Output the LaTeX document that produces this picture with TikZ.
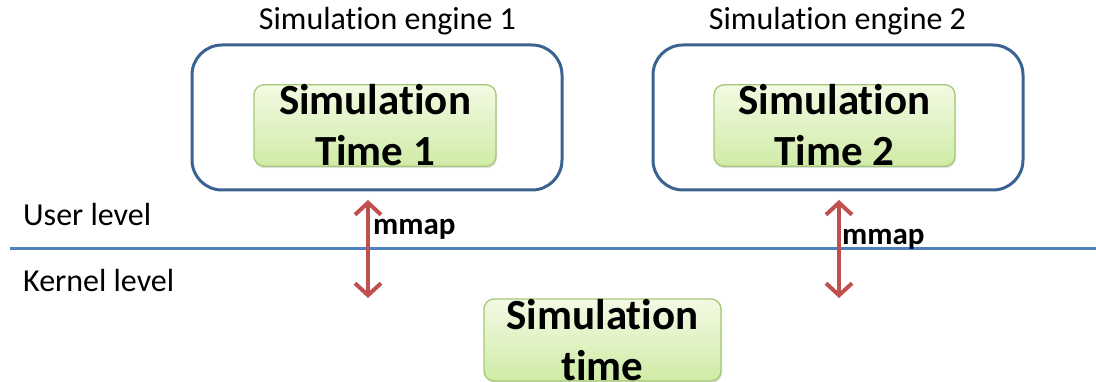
\documentclass[tikz,border=0pt]{standalone}
\usepackage{fontspec}
\setmainfont[Ligatures=NoCommon, RawFeature={-liga;-clig;-dlig;-calt}]{Carlito}
\usetikzlibrary{arrows.meta,shadows}
\definecolor{boxblue}{HTML}{3B6391}
\definecolor{lineblue}{HTML}{4F81BD}
\definecolor{arrred}{HTML}{C0504D}
\definecolor{gtop}{HTML}{F3FAE3}
\definecolor{gbot}{HTML}{CFEBA6}
\definecolor{gedge}{HTML}{A6C878}
\tikzset{
  engine/.style={draw=boxblue, line width=3pt, rounded corners=30pt},
  timebox/.style={draw=gedge, line width=1.3pt, rounded corners=10pt,
    top color=gtop, bottom color=gbot, inner sep=0pt, align=center,
    font=\fontsize{43}{51}\selectfont\bfseries,
    drop shadow={shadow xshift=1pt, shadow yshift=-2pt, opacity=0.25}},
  plain/.style={font=\fontsize{32}{36}\selectfont, inner sep=0pt},
  mmaplab/.style={font=\fontsize{31}{36}\selectfont\bfseries, inner sep=0pt},
  maparrow/.style={draw=arrred, line width=4pt,
    {Straight Barb[length=12pt,width=26pt,line width=4pt]}-{Straight Barb[length=12pt,width=26pt,line width=4pt]}},
  levelline/.style={draw=lineblue, line width=3pt}
}
\begin{document}
\begin{tikzpicture}[x=1pt,y=-1pt]
\useasboundingbox (0,0) rectangle (1096,382);
% outer engine boxes
\draw[engine] (192,45) rectangle (562,190);
\draw[engine] (653,45) rectangle (1023,190);
\node[plain, anchor=base] (e1lab) at (387.5,30) {Simulation engine 1};
\node[plain, anchor=base] (e2lab) at (837.5,30) {Simulation engine 2};
% inner time boxes
\node[timebox, minimum width=242pt, minimum height=81pt] (t1) at (375,125.5) {Simulation\\Time 1};
\node[timebox, minimum width=241pt, minimum height=81pt] (t2) at (834.5,125.5) {Simulation\\Time 2};
\node[timebox, minimum width=237pt, minimum height=82pt] (tk) at (602.5,340) {Simulation\\time};
% level line
\coordinate (ll) at (10,249);
\coordinate (lr) at (1096,249);
\draw[levelline] (ll) -- (lr);
\node[plain, anchor=base west] (ul) at (23,226) {User level};
\node[plain, anchor=base west] (kl) at (23,292) {Kernel level};
% mmap arrows
\coordinate (a1t) at (368,200);
\coordinate (a1b) at (368,298);
\coordinate (a2t) at (839,200);
\coordinate (a2b) at (839,298);
\draw[maparrow] (a1t) -- (a1b);
\draw[maparrow] (a2t) -- (a2b);
\node[mmaplab, anchor=base west] (m1) at (373,235) {mmap};
\node[mmaplab, anchor=base west] (m2) at (842,245) {mmap};
\end{tikzpicture}
\end{document}
